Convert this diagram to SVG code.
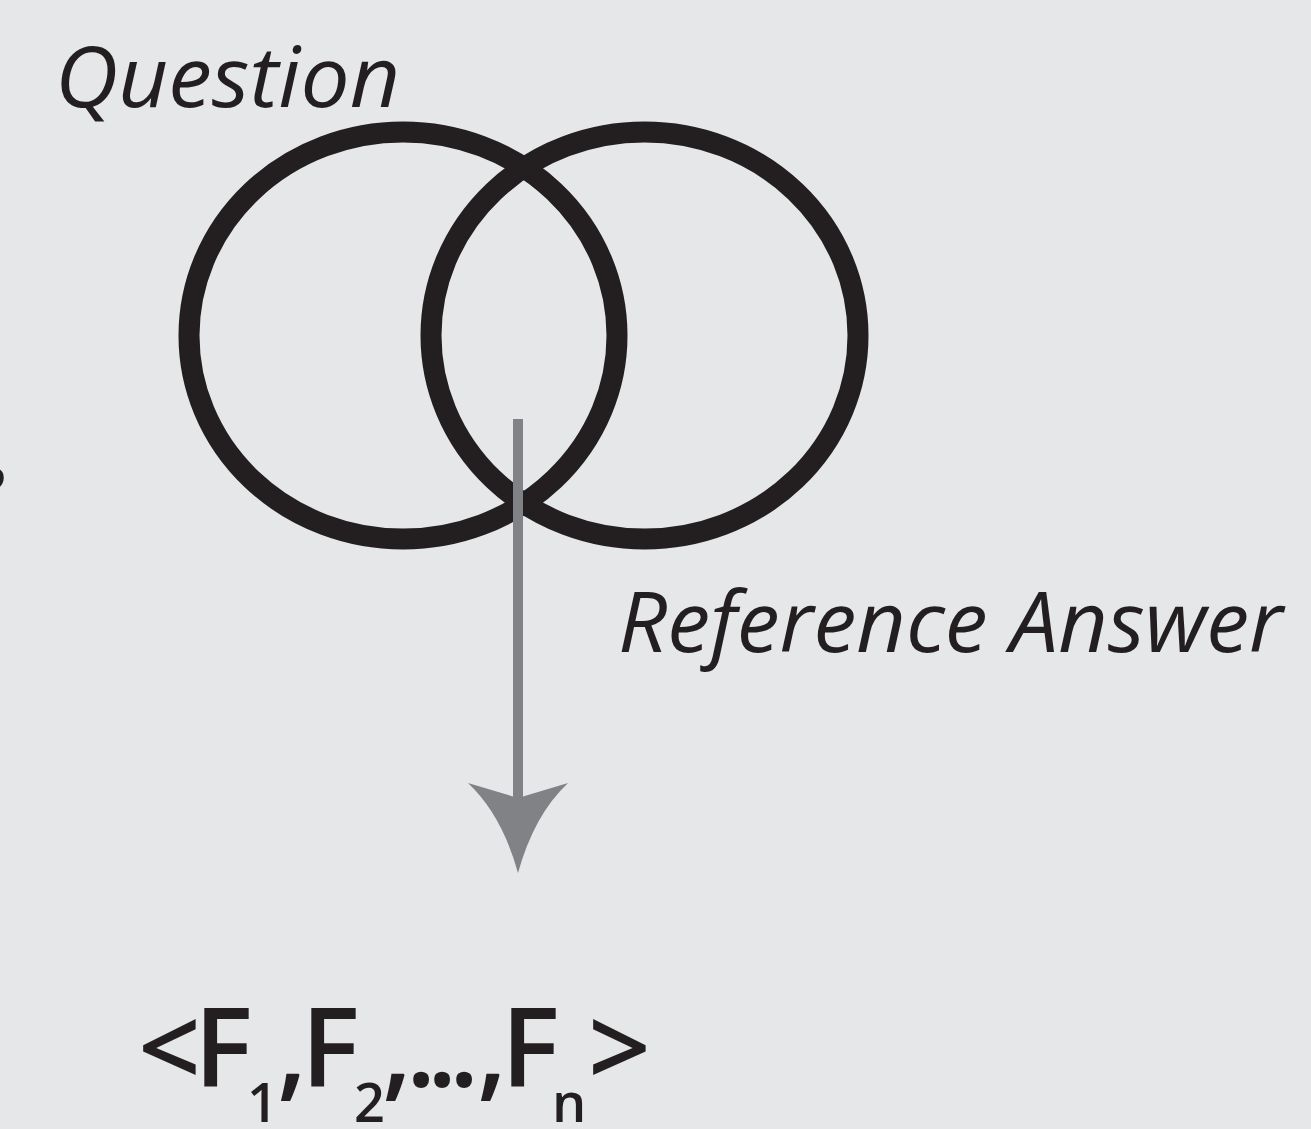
<svg xmlns="http://www.w3.org/2000/svg" width="1311" height="1129" viewBox="0 0 1311 1129">
<style>
.lbl{font-family:"Open Sans","Noto Sans","Liberation Sans",sans-serif;font-style:italic;font-size:85px;fill:#231f20}
.ring{fill:none;stroke:#231f20;stroke-width:21}
.f{font-family:"Open Sans","Noto Sans","Liberation Sans",sans-serif;font-weight:600;fill:#231f20;font-size:110px}
.s{font-size:54px}
</style>
<rect width="1311" height="1129" fill="#e6e7e8"/>
<text class="lbl" x="-36" y="513">e</text>
<g id="question">
<ellipse class="ring" cx="403" cy="335.5" rx="214" ry="203.5"/>
<text class="lbl" x="55" y="107" textLength="345" lengthAdjust="spacingAndGlyphs">Question</text>
</g>
<g id="reference-answer">
<ellipse class="ring" cx="644.5" cy="335.5" rx="213.5" ry="203.5"/>
<text class="lbl" x="618" y="652" textLength="665" lengthAdjust="spacingAndGlyphs">Reference Answer</text>
</g>
<g id="connectors">
<line x1="518" y1="419" x2="518" y2="805" stroke="#808285" stroke-width="10"/>
<path d="M518,873 Q502,815 468,783 L518,798 L568,783 Q534,815 518,873 Z" fill="#808285"/>
</g>
<g id="features">
<text class="f"><tspan x="138" y="1087">&lt;</tspan><tspan x="194" y="1087">F</tspan><tspan class="s" x="247" y="1122">1</tspan><tspan x="277" y="1087">,</tspan><tspan x="301" y="1087">F</tspan><tspan class="s" x="354" y="1122">2</tspan><tspan x="382" y="1087">,</tspan><tspan x="406" y="1087">.</tspan><tspan x="427" y="1087">.</tspan><tspan x="449" y="1087">.</tspan><tspan x="477" y="1087">,</tspan><tspan x="501" y="1087">F</tspan><tspan class="s" x="552" y="1122">n</tspan><tspan x="588" y="1087">&gt;</tspan></text>
</g>
</svg>
